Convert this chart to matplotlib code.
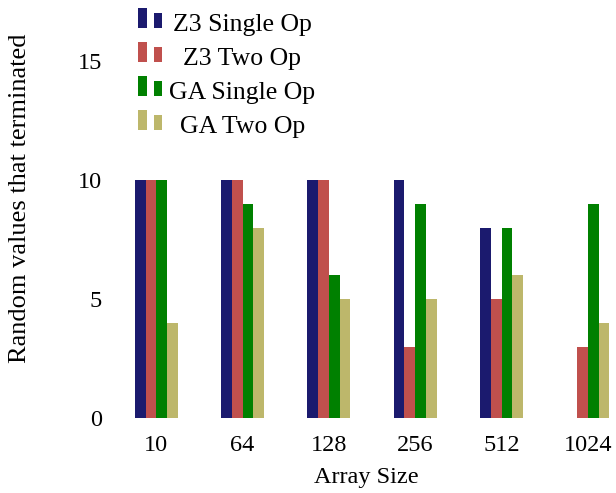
import matplotlib
matplotlib.use("Agg")
import matplotlib.pyplot as plt
import numpy as np
from matplotlib.patches import Rectangle
from matplotlib.legend_handler import HandlerBase
from matplotlib.transforms import Affine2D

categories = ["10", "64", "128", "256", "512", "1024"]
series_names = ["Z3 Single Op", "Z3 Two Op", "GA Single Op", "GA Two Op"]
z3_single = [10, 10, 10, 10, 8, 0]
z3_two = [10, 10, 10, 3, 5, 3]
ga_single = [10, 9, 6, 9, 8, 9]
ga_two = [4, 8, 5, 5, 6, 4]
colors = ["#1b1a6e", "#c0504d", "#008000", "#bdb76b"]

plt.rcParams["font.family"] = ["Liberation Serif", "DejaVu Serif"]

W, H = 616, 493
fig = plt.figure(figsize=(W / 100, H / 100), dpi=100)
ax = fig.add_axes([110 / W, (H - 418.3) / H, (W - 110) / W, 418.3 / H])

x = np.arange(len(categories))
bw = 0.124
series = [z3_single, z3_two, ga_single, ga_two]
bars = []
for i, (vals, c, name) in enumerate(zip(series, colors, series_names)):
    bars.append(ax.bar(x + (i - 1.5) * bw, vals, width=bw, color=c,
                       edgecolor="none", label=name))

ax.set_xlim((110 - 156.3) / 86.3, (W - 156.3) / 86.3)
ax.set_ylim(0, 17.55)
ax.set_yticks([0, 5, 10, 15])
ax.set_xticks(x)
ax.set_xticklabels(categories)
for s in ax.spines.values():
    s.set_visible(False)
ax.tick_params(axis="both", length=0, labelsize=17.5)
ax.tick_params(axis="y", pad=5.8)
ax.tick_params(axis="x", pad=12)

ax.set_xlabel("Array Size", fontsize=17.5)
ax.set_ylabel("Random values that terminated", fontsize=19)
ax.xaxis.set_label_coords((366 - 110) / (W - 110), -(478 - 418.3) / 418.3)
ax.yaxis.set_label_coords(-(110 - 20) / (W - 110), (418.3 - 198) / 418.3)
ax.xaxis.label.set_va("center")
ax.yaxis.label.set_va("center")


class PairHandler(HandlerBase):
    """Legend key drawn as two small bars, the right one shorter."""
    def create_artists(self, legend, orig_handle, xdescent, ydescent,
                       width, height, fontsize, trans):
        fc = orig_handle.patches[0].get_facecolor()
        w = width * 8.5 / 24
        r1 = Rectangle((-xdescent, -ydescent), w, height, facecolor=fc,
                       edgecolor="none", transform=trans)
        r2 = Rectangle((-xdescent + width - w, -ydescent), w, height * 0.75,
                       facecolor=fc, edgecolor="none", transform=trans)
        return [r1, r2]


fs = 18.5
px = fs * 100 / 72
leg = fig.legend(bars, series_names, loc="upper left",
                 bbox_to_anchor=(138 / W, 1 - 8 / H), borderaxespad=0, borderpad=0,
                 frameon=False, handler_map={type(bars[0]): PairHandler()},
                 handlelength=24 / px, handleheight=20.7 / px, handletextpad=0.3,
                 labelspacing=0.40, prop={"size": fs})

# centre the legend labels on a common axis, as in the original
fig.canvas.draw()
target_center = 242.5
for t in leg.get_texts():
    bb = t.get_window_extent()
    cx = (bb.x0 + bb.x1) / 2
    t.set_transform(t.get_transform() + Affine2D().translate(target_center - cx, -3.7))

fig.savefig("out.png", dpi=100)
